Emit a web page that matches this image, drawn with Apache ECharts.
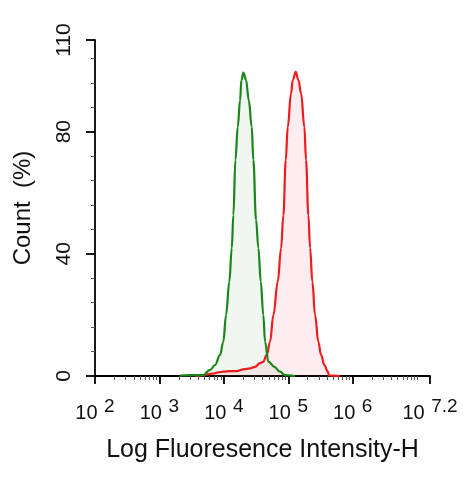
<!DOCTYPE html>
<html>
<head>
<meta charset="utf-8">
<script src="https://cdn.jsdelivr.net/npm/echarts@6/dist/echarts.min.js"></script>
<style>
html,body{margin:0;padding:0;background:#fff;}
#chart{width:476px;height:479px;}
</style>
</head>
<body>
<div id="chart"></div>
<script>
// x values are log10(fluorescence intensity)
const xMajorTicks = [2, 3, 4, 5, 6, 7.2];
const xMajorExponents = ['2', '3', '4', '5', '6', '7.2'];
const yMajorTicks = [0, 40, 80, 110];
const yMinorTicks = [8, 16, 24, 32, 48, 56, 64, 72, 88, 96, 104];
const minorDecades = [2, 3, 4, 5, 6];
const minorMultipliers = [2, 3, 4, 5, 6, 7, 8, 9];

const greenX = [3.320, 3.475, 3.677, 3.786, 3.863, 3.941, 3.992, 4.034, 4.085, 4.123, 4.148, 4.179, 4.216, 4.252, 4.272, 4.303, 4.345, 4.387, 4.433, 4.458, 4.500, 4.536, 4.573, 4.613, 4.640, 4.691, 4.784, 4.873, 4.950, 5.106];
const greenY = [0.1, 0.3, 0.3, 2.0, 3.6, 6.9, 11.2, 20.0, 30.9, 41.9, 52.7, 70.7, 81.6, 90.3, 96.9, 99.3, 96.9, 90.3, 81.6, 70.7, 51.1, 41.9, 30.9, 20.0, 11.2, 4.7, 3.0, 1.4, 0.3, 0];

const redX = [3.553, 3.630, 3.832, 3.910, 3.992, 4.096, 4.200, 4.303, 4.407, 4.484, 4.562, 4.609, 4.666, 4.717, 4.769, 4.837, 4.888, 4.924, 4.961, 4.992, 5.043, 5.070, 5.116, 5.157, 5.199, 5.250, 5.276, 5.312, 5.339, 5.374, 5.416, 5.467, 5.509, 5.561, 5.613, 5.634, 5.800];
const redY = [0, 0.2, 0.8, 1.2, 1.4, 1.6, 1.6, 2.2, 2.5, 3.0, 4.2, 4.6, 6.9, 11.2, 20.0, 30.9, 41.8, 52.7, 70.7, 81.6, 92.5, 96.9, 99.6, 96.9, 92.5, 81.6, 70.7, 52.7, 41.9, 30.9, 20.0, 11.2, 6.9, 3.6, 1.4, 0.2, 0];

const xMinorTicks = [];
minorDecades.forEach(d => minorMultipliers.forEach(k => xMinorTicks.push(d + Math.log10(k))));
xMinorTicks.push(7);

const zip = (xs, ys) => xs.map((x, i) => [x, ys[i]]);

const font = 'Liberation Sans, Arial, sans-serif';
const chart = echarts.init(document.getElementById('chart'), null, {renderer: 'canvas'});
chart.setOption({
  animation: false,
  backgroundColor: '#fff',
  grid: {left: 95, right: 46, top: 40, bottom: 103, containLabel: false},
  xAxis: [{
    type: 'value', min: 2, max: 7.2,
    name: 'Log Fluoresence Intensity-H',
    nameLocation: 'middle', nameGap: 62,
    nameTextStyle: {fontFamily: font, fontSize: 25, color: '#111'},
    axisLine: {show: true, lineStyle: {color: '#000', width: 1.8}},
    axisTick: {show: true, length: 8, inside: false, customValues: xMajorTicks, lineStyle: {color: '#000', width: 1.8}},
    axisLabel: {
      show: true, margin: 21, customValues: xMajorTicks,
      formatter: v => {
        const i = xMajorTicks.indexOf(v);
        return '{b|10 }{s|' + (i >= 0 ? xMajorExponents[i] : v) + '}';
      },
      rich: {
        b: {fontFamily: font, fontSize: 20, color: '#111'},
        s: {fontFamily: font, fontSize: 19, color: '#111', padding: [0, 0, 13, 1]}
      }
    },
    splitLine: {show: false}
  }, {
    type: 'value', min: 2, max: 7.2, position: 'bottom',
    axisLine: {show: false},
    axisTick: {show: true, length: 4, customValues: xMinorTicks, lineStyle: {color: '#555', width: 1}},
    axisLabel: {show: false, customValues: xMinorTicks},
    splitLine: {show: false}
  }],
  yAxis: [{
    type: 'value', min: 0, max: 110,
    name: 'Count  (%)', nameLocation: 'middle', nameGap: 60, nameRotate: 90,
    nameTextStyle: {fontFamily: font, fontSize: 24, color: '#111'},
    axisLine: {show: true, lineStyle: {color: '#000', width: 1.8}},
    axisTick: {show: true, length: 9, customValues: yMajorTicks, lineStyle: {color: '#000', width: 1.8}},
    axisLabel: {show: true, rotate: 90, margin: 20, customValues: yMajorTicks, fontFamily: font, fontSize: 21, color: '#111'},
    splitLine: {show: false}
  }, {
    type: 'value', min: 0, max: 110, position: 'left', offset: 0,
    axisLine: {show: false},
    axisTick: {show: true, length: 4, customValues: yMinorTicks, lineStyle: {color: '#555', width: 1}},
    axisLabel: {show: false, customValues: yMinorTicks},
    splitLine: {show: false}
  }],
  series: [{
    type: 'line', name: 'red', xAxisIndex: 0, yAxisIndex: 0,
    data: zip(redX, redY), symbol: 'none', smooth: 0.4, smoothMonotone: 'x',
    lineStyle: {color: '#ee1c1c', width: 2.2},
    areaStyle: {color: 'rgba(245, 60, 90, 0.13)'}
  }, {
    type: 'line', name: 'green', xAxisIndex: 0, yAxisIndex: 0,
    data: zip(greenX, greenY), symbol: 'none', smooth: 0.4, smoothMonotone: 'x',
    lineStyle: {color: '#1a861a', width: 2.2},
    areaStyle: {color: 'rgba(40, 140, 60, 0.10)'}
  }]
});
</script>
</body>
</html>
